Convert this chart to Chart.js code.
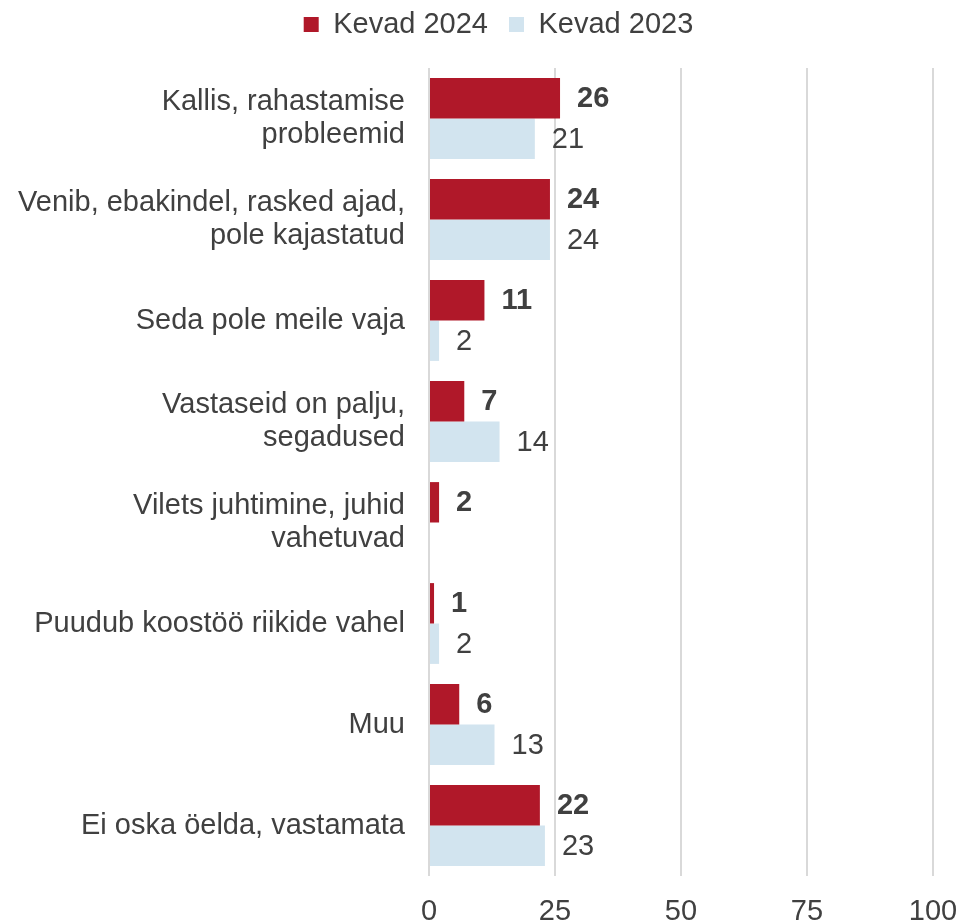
<!DOCTYPE html>
<html>
<head>
<meta charset="utf-8">
<script src="https://cdn.jsdelivr.net/npm/chart.js@4"></script>
<style>
  html, body { margin: 0; padding: 0; background: #fff; overflow: hidden; }
  canvas { display: block; }
</style>
</head>
<body>
<canvas id="myChart" width="963" height="923"></canvas>
<script>
"use strict"

const categories = [
    ["Kallis, rahastamise", "probleemid"],
    ["Venib, ebakindel, rasked ajad,", "pole kajastatud"],
    "Seda pole meile vaja",
    ["Vastaseid on palju,", "segadused"],
    ["Vilets juhtimine, juhid", "vahetuvad"],
    "Puudub koostöö riikide vahel",
    "Muu",
    "Ei oska öelda, vastamata"
]
const spring2024 = [26, 24, 11, 7, 2, 1, 6, 22]
const spring2023 = [21, 24, 2, 14, null, 2, 13, 23]
const xTicks = [0, 25, 50, 75, 100]

const TEXT = '#404040'
const FONT = "'Liberation Sans', Arial, sans-serif"
const FS = 29

// value labels next to bar ends
const barLabels = {
    id: 'barLabels',
    afterDatasetsDraw(chart) {
        const ctx = chart.ctx
        ctx.save()
        ctx.fillStyle = TEXT
        ctx.textAlign = 'left'
        ctx.textBaseline = 'middle'
        chart.data.datasets.forEach((ds, i) => {
            const meta = chart.getDatasetMeta(i)
            ctx.font = (i === 0 ? 'bold ' : '') + FS + 'px ' + FONT
            meta.data.forEach((bar, j) => {
                const v = ds.data[j]
                if (v === null || v === undefined) return
                ctx.fillText(String(v), bar.x + 17, bar.y + 1)
            })
        })
        ctx.restore()
    }
}

// legend: fixed height, nudged to where the original sits
const legendPlace = {
    id: 'legendPlace',
    beforeInit(chart) {
        const fit = chart.legend.fit
        chart.legend.fit = function () {
            fit.bind(chart.legend)()
            this.height = 68
        }
    },
    afterLayout(chart) {
        const lg = chart.legend
        lg.left += 17
        lg.right += 17
        lg.top -= 11
        lg.bottom -= 11
    }
}

const ctx = document.getElementById('myChart').getContext('2d')
const chart = new Chart(ctx, {
    type: 'bar',
    data: {
        labels: categories,
        datasets: [
            { label: 'Kevad 2024', data: spring2024, backgroundColor: '#B01829' },
            { label: 'Kevad 2023', data: spring2023, backgroundColor: '#D2E4EF' }
        ]
    },
    options: {
        indexAxis: 'y',
        responsive: false,
        animation: false,
        datasets: {
            bar: { categoryPercentage: 0.8, barPercentage: 1 }
        },
        layout: { padding: 0 },
        scales: {
            x: {
                min: 0,
                max: 100,
                afterBuildTicks(axis) {
                    axis.ticks = xTicks.map(v => ({ value: v }))
                },
                afterFit(axis) {
                    axis.height = 47
                    axis.paddingLeft = 0
                    axis.paddingRight = 30
                },
                grid: { color: '#D9D9D9', lineWidth: 2, drawTicks: false },
                border: { display: false },
                ticks: { color: TEXT, font: { size: FS, family: FONT }, padding: 19 }
            },
            y: {
                afterFit(axis) {
                    axis.width = 429
                    axis.paddingTop = 0
                    axis.paddingBottom = 0
                },
                grid: { display: false, drawTicks: false },
                border: { display: false },
                ticks: { color: TEXT, font: { size: FS, family: FONT, lineHeight: 1.14 }, padding: 24 }
            }
        },
        plugins: {
            legend: {
                position: 'top',
                labels: {
                    color: TEXT,
                    boxWidth: 15,
                    boxHeight: 15,
                    padding: 21,
                    font: { size: FS, family: FONT }
                }
            },
            tooltip: { enabled: false }
        }
    },
    plugins: [barLabels, legendPlace]
})
</script>
</body>
</html>
